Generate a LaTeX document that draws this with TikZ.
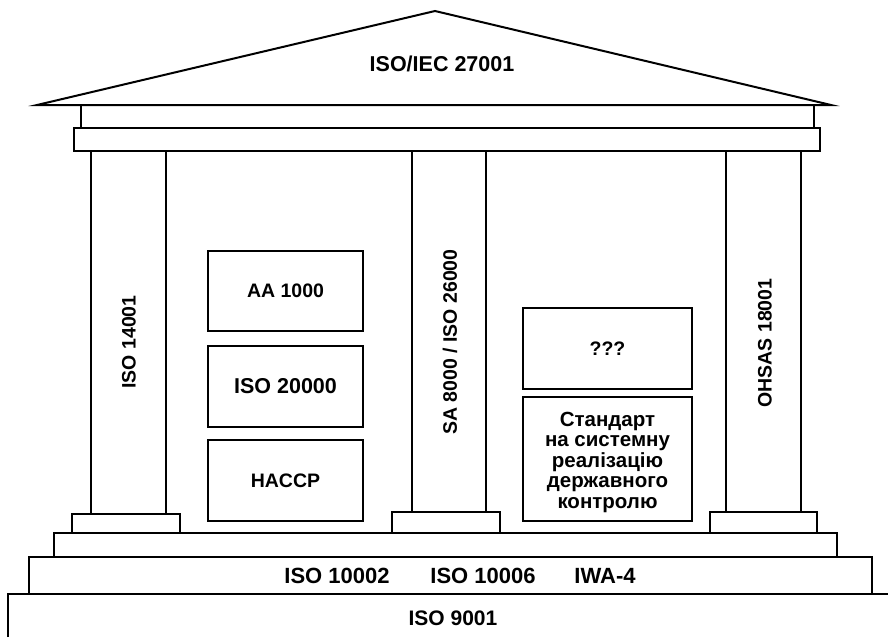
\documentclass[tikz,border=0pt]{standalone}
\usepackage{fontspec}
\setmainfont{Liberation Sans}
\usepackage{tikz}

\begin{document}
\begin{tikzpicture}[x=1pt,y=-1pt,
	part/.style={draw,line width=2pt,line join=miter},
	box/.style={part,rectangle,inner sep=0pt,align=center,font=\bfseries\fontsize{19.5}{20}\selectfont},
	label/.style={font=\bfseries\fontsize{19.5}{20}\selectfont},
	steplabel/.style={font=\bfseries\fontsize{22}{22}\selectfont}]
	\useasboundingbox (0,0) rectangle (888,637);
	%ROOF
	\draw[part] (37,105)--(435,11)--(831,105)--cycle;
		\node[label,font=\bfseries\fontsize{21.5}{22}\selectfont] (roof) at (442,64) {ISO/IEC 27001};
	\draw[part] (81,105) rectangle (814,128);
	\draw[part] (74,128) rectangle (820,151);
	%
	%COLUMNS
	\draw[part] (91,151) rectangle (166,514);
		\node[label,rotate=90] (colA) at (129,342) {ISO 14001};
	\draw[part] (412,151) rectangle (486,512);
		\node[label,rotate=90] (colB) at (450,342) {SA 8000 / ISO 26000};
	\draw[part] (726,151) rectangle (801,512);
		\node[label,rotate=90] (colC) at (765,343) {OHSAS 18001};
	%
	%BASES
	\draw[part] (72,514) rectangle (180,533);
	\draw[part] (392,512) rectangle (500,533);
	\draw[part] (710,512) rectangle (817,533);
	
	%INNER BOXES
	\node[box,minimum width=155pt,minimum height=80pt] (aa) at (285.5,291) {AA 1000};
	\node[box,minimum width=155pt,minimum height=81pt,font=\bfseries\fontsize{21.5}{22}\selectfont] (iso) at (285.5,386.5) {ISO 20000};
	\node[box,minimum width=155pt,minimum height=81pt] (haccp) at (285.5,480.5) {HACCP};
	%
	\node[box,minimum width=169pt,minimum height=81pt] (unk) at (607.5,348.5) {???};
	\node[box,minimum width=169pt,minimum height=124pt] (std) at (607.5,459) {};
		\node[align=center,font=\bfseries\fontsize{20.5}{20.5}\selectfont] (stdtext) at (607.5,462) {Стандарт\\на системну\\реалізацію\\державного\\контролю};
	
	%STEPS
	\draw[part] (54,533) rectangle (837,557);
	\draw[part] (29,557) rectangle (872,594);
		\node[steplabel] (s1) at (337,576) {ISO 10002};
		\node[steplabel] (s2) at (483,576) {ISO 10006};
		\node[steplabel] (s3) at (605,576) {IWA-4};
	\draw[part] (8,637)--(8,594)--(888,594);
		\node[steplabel,font=\bfseries\fontsize{21}{22}\selectfont] (base) at (453,618) {ISO 9001};
	
	%\draw[help lines,step=50] (0,0) grid (888,637);
\end{tikzpicture}
\end{document}
